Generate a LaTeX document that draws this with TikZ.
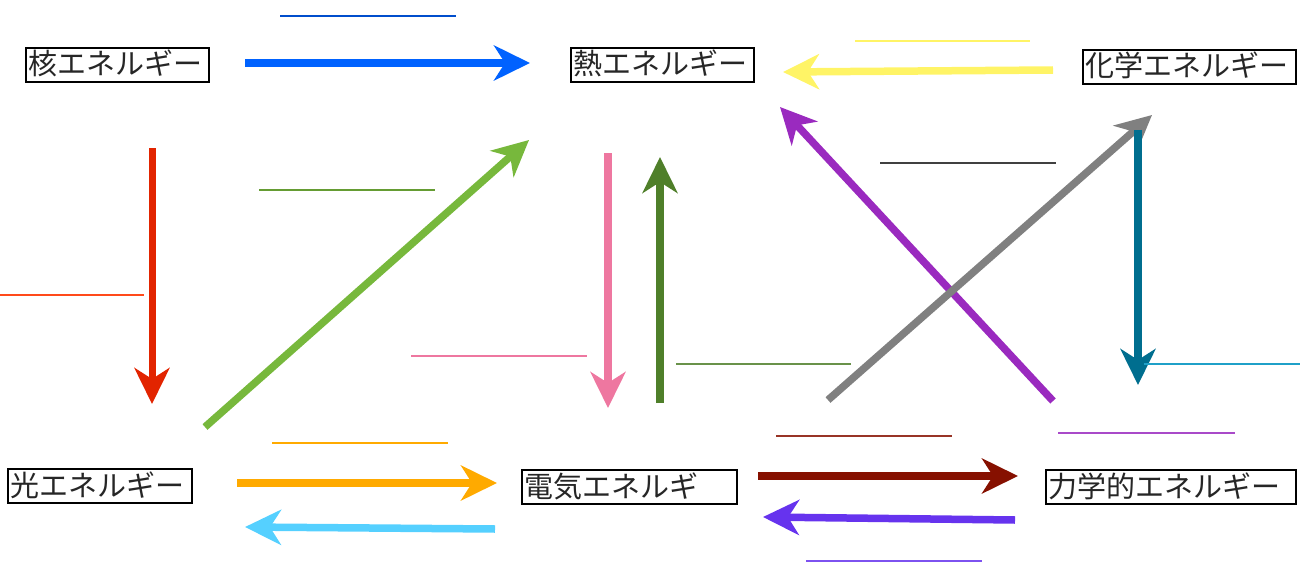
\documentclass[tikz,border=0pt]{standalone}
\usepackage{fontspec}
\newfontfamily\jp{Noto Sans CJK JP}
\usetikzlibrary{arrows.meta}
\definecolor{cBlue}{HTML}{0062FF}
\definecolor{cYellow}{HTML}{FFF466}
\definecolor{cRed}{HTML}{E22400}
\definecolor{cRedThin}{HTML}{FF4A1A}
\definecolor{cGreen}{HTML}{77B83C}
\definecolor{cPink}{HTML}{EE77A0}
\definecolor{cDGreen}{HTML}{4F7F2A}
\definecolor{cPurple}{HTML}{9A2ABF}
\definecolor{cGray}{HTML}{808080}
\definecolor{cTeal}{HTML}{006E8F}
\definecolor{cTealThin}{HTML}{1FA0C8}
\definecolor{cOrange}{HTML}{FFAA00}
\definecolor{cLBlue}{HTML}{55D0FF}
\definecolor{cDRed}{HTML}{861000}
\definecolor{cViolet}{HTML}{6633EE}
\tikzset{
  ebox/.style={draw=black, line width=2.4pt, inner sep=2pt, anchor=west,
    font=\jp\fontsize{29}{31}\selectfont, text height=25pt, text depth=5pt, align=left, text=black!85},
  bigarrow/.style={line width=7.5pt, -{Stealth[length=36pt,width=35pt,inset=11pt]}},
  blank/.style={line width=1.4pt}
}
\begin{document}
\begin{tikzpicture}[x=1pt,y=-1pt]
\useasboundingbox (0,0) rectangle (1300,567);
% nodes
\node[ebox, text width=179pt] (kaku) at (25,65) {核エネルギー};
\node[ebox, text width=179pt] (netsu) at (570,65) {熱エネルギー};
\node[ebox, text width=209pt] (kagaku) at (1082,67) {化学エネルギー};
\node[ebox, text width=180pt] (hikari) at (7,486) {光エネルギー};
\node[ebox, text width=211pt] (denki) at (521,487) {電気エネルギ};
\node[ebox, text width=246pt] (riki) at (1045,487) {力学的エネルギー};
% arrow end points
\coordinate (b1) at (245,63);   \coordinate (b2) at (530,63);
\coordinate (y1) at (1053,70);  \coordinate (y2) at (783,72);
\coordinate (r1) at (152,148);  \coordinate (r2) at (152,404);
\coordinate (g1) at (205,427);  \coordinate (g2) at (529,140);
\coordinate (p1) at (608,153);  \coordinate (p2) at (608,408);
\coordinate (d1) at (660,403);  \coordinate (d2) at (660,157);
\coordinate (u1) at (1053,401); \coordinate (u2) at (780,107);
\coordinate (k1) at (828,400);  \coordinate (k2) at (1152,115);
\coordinate (t1) at (1138,130); \coordinate (t2) at (1138,385);
\coordinate (o1) at (237,483);  \coordinate (o2) at (497,483);
\coordinate (l1) at (495,529);  \coordinate (l2) at (245,527);
\coordinate (x1) at (758,476);  \coordinate (x2) at (1018,476);
\coordinate (v1) at (1015,520); \coordinate (v2) at (763,517);
% arrows
\draw[bigarrow, cBlue] (b1) -- (b2);
\draw[bigarrow, cYellow] (y1) -- (y2);
\draw[bigarrow, cRed, line width=7pt] (r1) -- (r2);
\draw[bigarrow, cGreen] (g1) -- (g2);
\draw[bigarrow, cPink] (p1) -- (p2);
\draw[bigarrow, cDGreen] (d1) -- (d2);
\draw[bigarrow, cPurple] (u1) -- (u2);
\draw[bigarrow, cGray] (k1) -- (k2);
\draw[bigarrow, cTeal] (t1) -- (t2);
\draw[bigarrow, cOrange] (o1) -- (o2);
\draw[bigarrow, cLBlue] (l1) -- (l2);
\draw[bigarrow, cDRed] (x1) -- (x2);
\draw[bigarrow, cViolet] (v1) -- (v2);
% blank lines
\draw[blank, cBlue!80!black] (280,16) -- (456,16);
\draw[blank, cYellow] (855,41) -- (1030,41);
\draw[blank, cRedThin] (0,295) -- (144,295);
\draw[blank, cGreen!85!black] (259,190) -- (435,190);
\draw[blank, cPink] (411,356) -- (587,356);
\draw[blank, black!75] (880,163) -- (1056,163);
\draw[blank, cDGreen!85!white] (676,364) -- (851,364);
\draw[blank, cTealThin] (1144,364) -- (1300,364);
\draw[blank, cOrange] (272,443) -- (448,443);
\draw[blank, cDRed!85!white] (776,436) -- (952,436);
\draw[blank, cPurple!85!white] (1058,433) -- (1235,433);
\draw[blank, cViolet!85!white] (806,561) -- (982,561);
\end{tikzpicture}
\end{document}
